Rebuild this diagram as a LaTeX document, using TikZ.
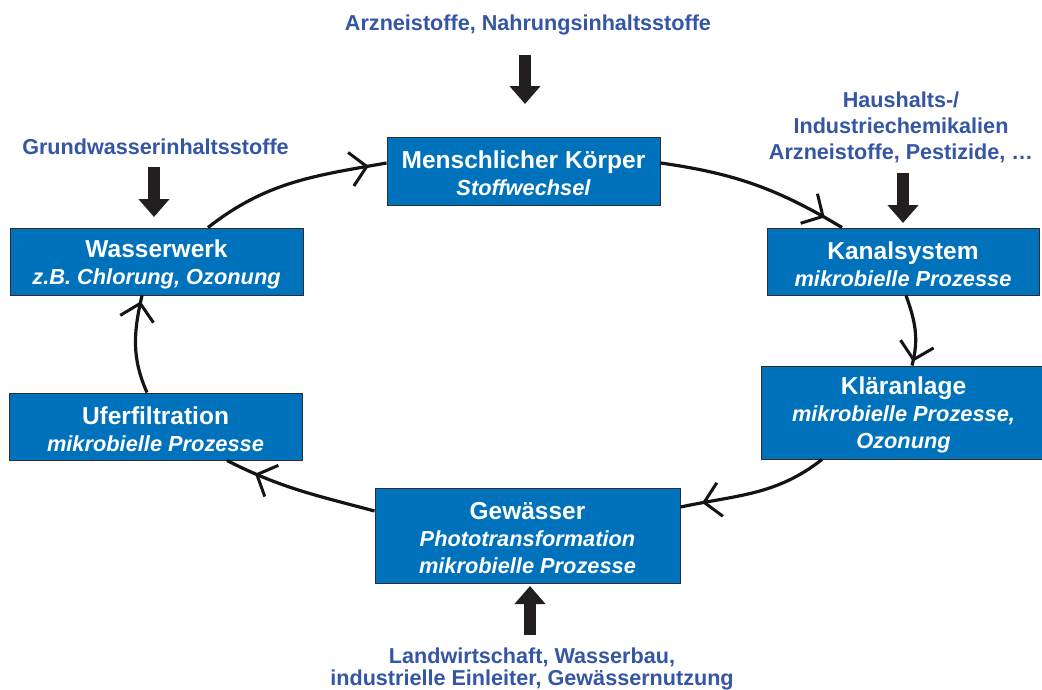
\documentclass[tikz,border=0pt]{standalone}
\usepackage{fontspec}
\setmainfont{Liberation Sans}
\usetikzlibrary{arrows.meta,decorations.markings}
\definecolor{boxblue}{RGB}{0,114,188}
\definecolor{boxline}{RGB}{45,45,45}
\definecolor{lblblue}{RGB}{52,86,164}
\definecolor{arrowblack}{RGB}{35,31,32}
\newcommand{\subt}[1]{{\itshape\fontsize{21.8}{27}\selectfont #1}}
\begin{document}
\begin{tikzpicture}[x=1pt,y=1pt,
  box/.style={draw=boxline, line width=1pt, fill=boxblue, inner sep=0pt},
  boxtext/.style={text=white, align=center, inner sep=0pt,
    font=\bfseries\fontsize{24.5}{27}\selectfont},
  lbl/.style={text=lblblue, align=center, inner sep=0pt, font=\bfseries\fontsize{21.6}{25}\selectfont},
  bigarrow/.style={draw=arrowblack, line width=12pt, -{Triangle[width=30pt,length=18pt]}},
  cyc/.style={draw=black!92, line width=3.2pt},
  barb/.style={postaction={decorate}, decoration={markings,
    mark=at position -#1 with {\arrow{Straight Barb[length=16pt,width=34pt,line width=3pt]}}}}
]
\useasboundingbox (0,0) rectangle (1042,-689);
\fill[white] (0,0) rectangle (1042,-689);

% boxes
\node[box, minimum width=273pt, minimum height=68pt] (mk) at (523.5,-171) {};
\node[box, minimum width=272pt, minimum height=67pt] (ks) at (903,-261.5) {};
\node[box, minimum width=287pt, minimum height=93pt] (ka) at (904.5,-412.5) {};
\node[box, minimum width=305pt, minimum height=95pt] (gw) at (527.5,-535.5) {};
\node[box, minimum width=293pt, minimum height=67pt] (uf) at (155.5,-426.5) {};
\node[box, minimum width=293pt, minimum height=67pt] (ww) at (156.5,-261.5) {};

% box texts
\node[boxtext] (mkt) at ([yshift=-2.5pt]mk.center) {Menschlicher Körper\\\subt{Stoffwechsel}};
\node[boxtext] (kst) at ([yshift=-2.5pt]ks.center) {Kanalsystem\\\subt{mikrobielle Prozesse}};
\node[boxtext] (kat) at ([xshift=-1pt,yshift=-2.5pt]ka.center) {Kläranlage\\\subt{mikrobielle Prozesse,}\\\subt{Ozonung}};
\node[boxtext] (gwt) at ([yshift=-2.5pt]gw.center) {Gewässer\\\subt{Phototransformation}\\\subt{mikrobielle Prozesse}};
\node[boxtext] (uft) at ([yshift=-2.5pt]uf.center) {Uferfiltration\\\subt{mikrobielle Prozesse}};
\node[boxtext] (wwt) at ([yshift=-2.5pt]ww.center) {Wasserwerk\\\subt{z.B. Chlorung, Ozonung}};

% labels
\node[lbl] (lt) at (528,-25) {Arzneistoffe, Nahrungsinhaltsstoffe};
\node[lbl, font=\bfseries\fontsize{21.6}{26}\selectfont] (lr) at (901,-127)
  {Haushalts-/\\Industriechemikalien\\Arzneistoffe, Pestizide, …};
\node[lbl] (ll) at (155.5,-147) {Grundwasserinhaltsstoffe};
\node[lbl, font=\bfseries\fontsize{21.6}{21.5}\selectfont] (lb) at (532,-669)
  {Landwirtschaft, Wasserbau,\\industrielle Einleiter, Gewässernutzung};

% cycle
\draw[cyc, barb=18pt] ([xshift=51.5pt]ww.north) to[out=38,in=-170] ([yshift=8pt]mk.west);
\draw[cyc, barb=20pt] ([yshift=8pt]mk.east) to[out=-8,in=149] ([xshift=-61pt]ks.north);
\draw[cyc, barb=4pt] ([xshift=3pt]ks.south) to[out=-70,in=75] ([xshift=7.5pt]ka.north);
\draw[cyc, barb=22pt] ([xshift=-82.5pt]ka.south) to[out=-142,in=12] ([yshift=28.5pt]gw.west -| gw.east);
\draw[cyc, barb=31pt] ([yshift=24.5pt]gw.west) to[out=165,in=-27] ([xshift=71.5pt]uf.south);
\draw[cyc, barb=6pt] ([xshift=-8.5pt]uf.north) to[out=114,in=-103] ([xshift=-14.5pt]ww.south);

% big arrows
\coordinate (a1s) at (525,-55);  \coordinate (a1e) at (525,-104);
\coordinate (a2s) at (903,-173); \coordinate (a2e) at (903,-223);
\coordinate (a3s) at (154,-167); \coordinate (a3e) at (154,-217);
\coordinate (a4s) at (530,-635); \coordinate (a4e) at (530,-586);
\draw[bigarrow] (a1s) -- (a1e);
\draw[bigarrow] (a2s) -- (a2e);
\draw[bigarrow] (a3s) -- (a3e);
\draw[bigarrow] (a4s) -- (a4e);
\end{tikzpicture}
\end{document}
